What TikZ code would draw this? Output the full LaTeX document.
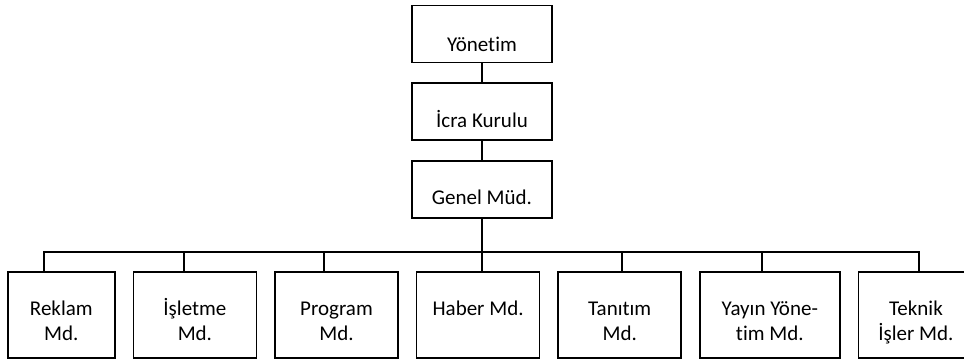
\documentclass[tikz,border=0pt]{standalone}
\usepackage{fontspec}
\setmainfont{Carlito}[Ligatures=NoCommon]
\usetikzlibrary{positioning}

\tikzset{
  box/.style={draw=black, line width=1.6pt, rectangle, inner sep=0pt},
  topbox/.style={box, minimum width=140pt, minimum height=57pt},
  unitbox/.style={box, minimum height=86pt},
  lbl/.style={anchor=base, align=center, inner sep=0pt, font=\fontsize{21}{25}\selectfont},
  link/.style={black, line width=1.6pt, line join=miter}
}

\begin{document}
\begin{tikzpicture}[x=1pt, y=-1pt]
    \useasboundingbox (0,0) rectangle (964,359);
    % top chain
    \node[topbox] (yon) at (482,34) {};
    \node[topbox, below=19pt of yon] (icra) {};
    \node[topbox, below=19pt of icra] (gm) {};
    \node[lbl] (yon-t) at ([yshift=-47pt]yon.north) {Yönetim};
    \node[lbl] (icra-t) at ([yshift=-45pt]icra.north) {İcra Kurulu};
    \node[lbl] (gm-t) at ([yshift=-45pt]gm.north) {Genel Müd.};
    % units
    \node[unitbox, minimum width=107pt, anchor=north west] (rek) at (7,271) {};
    \node[unitbox, minimum width=123pt, right=17pt of rek] (isl) {};
    \node[unitbox, minimum width=123pt, right=17pt of isl] (prg) {};
    \node[unitbox, minimum width=123pt, right=17pt of prg] (hab) {};
    \node[unitbox, minimum width=123pt, right=17pt of hab] (tan) {};
    \node[unitbox, minimum width=140pt, right=17pt of tan] (yay) {};
    \node[unitbox, minimum width=115pt, right=17pt of yay] (tek) {};
    % two-line labels sit on their last line
    \node[lbl] (rek-t) at ([yshift=-69pt]rek.north) {Reklam\\Md.};
    \node[lbl] (isl-t) at ([yshift=-69pt]isl.north) {İşletme\\Md.};
    \node[lbl] (prg-t) at ([yshift=-69pt]prg.north) {Program\\Md.};
    \node[lbl] (hab-t) at ([yshift=-44pt]hab.north) {Haber Md.};
    \node[lbl] (tan-t) at ([yshift=-69pt]tan.north) {Tanıtım\\Md.};
    \node[lbl] (yay-t) at ([yshift=-69pt]yay.north) {Yayın Yöne-\\tim Md.};
    \node[lbl] (tek-t) at ([yshift=-69pt]tek.north) {Teknik\\İşler Md.};
    % bus points
    \coordinate (d1) at (44,252);
    \coordinate (d2) at (184,252);
    \coordinate (d3) at (324,252);
    \coordinate (d4) at (482,252);
    \coordinate (d5) at (622,252);
    \coordinate (d6) at (762,252);
    \coordinate (d7) at (919,252);
    % lines
    \draw[link] (yon.south) -- (icra.north);
    \draw[link] (icra.south) -- (gm.north);
    \draw[link] (gm.south) -- (d4);
    \draw[link] (d1 |- rek.north) -- (d1) -- (d7) -- (d7 |- tek.north);
    \draw[link] (d2) -- (d2 |- isl.north);
    \draw[link] (d3) -- (d3 |- prg.north);
    \draw[link] (d4) -- (d4 |- hab.north);
    \draw[link] (d5) -- (d5 |- tan.north);
    \draw[link] (d6) -- (d6 |- yay.north);
\end{tikzpicture}
\end{document}
